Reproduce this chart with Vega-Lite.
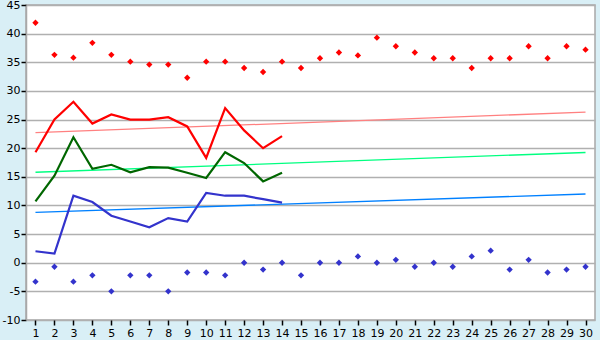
{
  "$schema": "https://vega.github.io/schema/vega-lite/v6.json",
  "width": 569,
  "height": 315,
  "autosize": {"type": "none"},
  "padding": {"left": 26, "top": 5, "right": 5, "bottom": 20},
  "background": "#d9eff6",
  "view": {"fill": "#ffffff", "stroke": "#a8a8a8", "strokeWidth": 1.5},
  "config": {
    "font": "DejaVu Sans",
    "axis": {"labelFont": "DejaVu Sans", "labelFontSize": 11, "labelColor": "#000000", "title": null, "tickColor": "#000000", "tickSize": 5, "tickWidth": 1.5}
  },
  "datasets": {
    "pts": [
      {"day": 1, "s": "max", "v": 41.9}, {"day": 2, "s": "max", "v": 36.3}, {"day": 3, "s": "max", "v": 35.8}, {"day": 4, "s": "max", "v": 38.4}, {"day": 5, "s": "max", "v": 36.3},
      {"day": 6, "s": "max", "v": 35.1}, {"day": 7, "s": "max", "v": 34.6}, {"day": 8, "s": "max", "v": 34.6}, {"day": 9, "s": "max", "v": 32.3}, {"day": 10, "s": "max", "v": 35.1},
      {"day": 11, "s": "max", "v": 35.1}, {"day": 12, "s": "max", "v": 34.0}, {"day": 13, "s": "max", "v": 33.3}, {"day": 14, "s": "max", "v": 35.1}, {"day": 15, "s": "max", "v": 34.0},
      {"day": 16, "s": "max", "v": 35.7}, {"day": 17, "s": "max", "v": 36.7}, {"day": 18, "s": "max", "v": 36.2}, {"day": 19, "s": "max", "v": 39.3}, {"day": 20, "s": "max", "v": 37.8},
      {"day": 21, "s": "max", "v": 36.7}, {"day": 22, "s": "max", "v": 35.7}, {"day": 23, "s": "max", "v": 35.7}, {"day": 24, "s": "max", "v": 34.0}, {"day": 25, "s": "max", "v": 35.7},
      {"day": 26, "s": "max", "v": 35.7}, {"day": 27, "s": "max", "v": 37.8}, {"day": 28, "s": "max", "v": 35.7}, {"day": 29, "s": "max", "v": 37.8}, {"day": 30, "s": "max", "v": 37.2},
      {"day": 1, "s": "min", "v": -3.3}, {"day": 2, "s": "min", "v": -0.7}, {"day": 3, "s": "min", "v": -3.3}, {"day": 4, "s": "min", "v": -2.2}, {"day": 5, "s": "min", "v": -5.0},
      {"day": 6, "s": "min", "v": -2.2}, {"day": 7, "s": "min", "v": -2.2}, {"day": 8, "s": "min", "v": -5.0}, {"day": 9, "s": "min", "v": -1.7}, {"day": 10, "s": "min", "v": -1.7},
      {"day": 11, "s": "min", "v": -2.2}, {"day": 12, "s": "min", "v": 0.0}, {"day": 13, "s": "min", "v": -1.2}, {"day": 14, "s": "min", "v": 0.0}, {"day": 15, "s": "min", "v": -2.2},
      {"day": 16, "s": "min", "v": 0.0}, {"day": 17, "s": "min", "v": 0.0}, {"day": 18, "s": "min", "v": 1.1}, {"day": 19, "s": "min", "v": 0.0}, {"day": 20, "s": "min", "v": 0.5},
      {"day": 21, "s": "min", "v": -0.7}, {"day": 22, "s": "min", "v": 0.0}, {"day": 23, "s": "min", "v": -0.7}, {"day": 24, "s": "min", "v": 1.1}, {"day": 25, "s": "min", "v": 2.1},
      {"day": 26, "s": "min", "v": -1.2}, {"day": 27, "s": "min", "v": 0.5}, {"day": 28, "s": "min", "v": -1.7}, {"day": 29, "s": "min", "v": -1.2}, {"day": 30, "s": "min", "v": -0.7}
    ],
    "lines": [
      {"day": 1, "s": "high", "v": 19.3}, {"day": 2, "s": "high", "v": 25.0}, {"day": 3, "s": "high", "v": 28.1}, {"day": 4, "s": "high", "v": 24.3}, {"day": 5, "s": "high", "v": 25.9},
      {"day": 6, "s": "high", "v": 25.0}, {"day": 7, "s": "high", "v": 25.0}, {"day": 8, "s": "high", "v": 25.4}, {"day": 9, "s": "high", "v": 23.8}, {"day": 10, "s": "high", "v": 18.3},
      {"day": 11, "s": "high", "v": 27.0}, {"day": 12, "s": "high", "v": 23.1}, {"day": 13, "s": "high", "v": 20.0}, {"day": 14, "s": "high", "v": 22.1},
      {"day": 1, "s": "mean", "v": 10.7}, {"day": 2, "s": "mean", "v": 15.2}, {"day": 3, "s": "mean", "v": 21.9}, {"day": 4, "s": "mean", "v": 16.4}, {"day": 5, "s": "mean", "v": 17.1},
      {"day": 6, "s": "mean", "v": 15.8}, {"day": 7, "s": "mean", "v": 16.7}, {"day": 8, "s": "mean", "v": 16.6}, {"day": 9, "s": "mean", "v": 15.7}, {"day": 10, "s": "mean", "v": 14.8},
      {"day": 11, "s": "mean", "v": 19.3}, {"day": 12, "s": "mean", "v": 17.4}, {"day": 13, "s": "mean", "v": 14.2}, {"day": 14, "s": "mean", "v": 15.7},
      {"day": 1, "s": "low", "v": 2.0}, {"day": 2, "s": "low", "v": 1.6}, {"day": 3, "s": "low", "v": 11.7}, {"day": 4, "s": "low", "v": 10.6}, {"day": 5, "s": "low", "v": 8.2},
      {"day": 6, "s": "low", "v": 7.2}, {"day": 7, "s": "low", "v": 6.2}, {"day": 8, "s": "low", "v": 7.8}, {"day": 9, "s": "low", "v": 7.2}, {"day": 10, "s": "low", "v": 12.2},
      {"day": 11, "s": "low", "v": 11.7}, {"day": 12, "s": "low", "v": 11.7}, {"day": 13, "s": "low", "v": 11.1}, {"day": 14, "s": "low", "v": 10.5}
    ],
    "trend": [
      {"day": 1, "s": "t_high", "v": 22.7}, {"day": 30, "s": "t_high", "v": 26.3},
      {"day": 1, "s": "t_mean", "v": 15.8}, {"day": 30, "s": "t_mean", "v": 19.25},
      {"day": 1, "s": "t_low", "v": 8.8}, {"day": 30, "s": "t_low", "v": 12.0}
    ]
  },
  "encoding": {
    "x": {"field": "day", "type": "ordinal", "scale": {"type": "point", "padding": 0.5, "domain": [1,2,3,4,5,6,7,8,9,10,11,12,13,14,15,16,17,18,19,20,21,22,23,24,25,26,27,28,29,30]},
      "axis": {"labelAngle": 0, "grid": false, "domain": false, "labelPadding": 2}},
    "y": {"field": "v", "type": "quantitative", "scale": {"domain": [-10, 45], "nice": false, "zero": false},
      "axis": {"values": [-10,-5,0,5,10,15,20,25,30,35,40,45], "labelExpr": "toString(datum.value)", "grid": true, "gridColor": "#b0b0b0", "gridWidth": 1.5, "domainColor": "#a8a8a8", "domainWidth": 1.5, "labelPadding": 1}},
    "color": {"field": "s", "type": "nominal", "legend": null,
      "scale": {"domain": ["max", "min", "high", "mean", "low", "t_high", "t_mean", "t_low"],
        "range": ["#ff0000", "#3333cc", "#ff0000", "#006600", "#3333cc", "#ff8080", "#00ff80", "#0080ff"]}}
  },
  "layer": [
    {"data": {"name": "trend"}, "mark": {"type": "line", "strokeWidth": 1.3}},
    {"data": {"name": "lines"}, "mark": {"type": "line", "strokeWidth": 2.2}},
    {"data": {"name": "pts"}, "mark": {"type": "point", "shape": "diamond", "filled": true, "size": 40, "opacity": 1}}
  ]
}
